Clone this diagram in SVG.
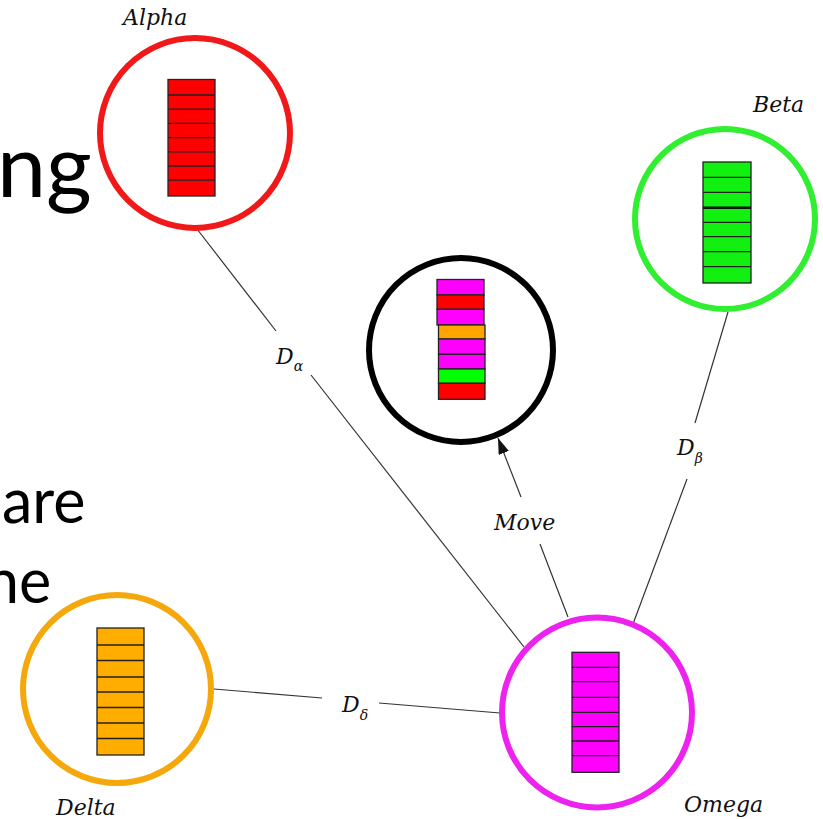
<svg xmlns="http://www.w3.org/2000/svg" width="823" height="819" viewBox="0 0 823 819">
  <style>
    .big { font-family: Lato, "Open Sans", "Liberation Sans", sans-serif; fill: #000; }
    .lbl { font-family: "DejaVu Serif", "Liberation Serif", serif; font-style: italic; font-size: 22px; fill: #111; }
    .dlbl { font-family: "DejaVu Serif", "Liberation Serif", serif; font-style: italic; font-size: 22px; fill: #111; }
    .sub { font-size: 14px; }
    .ring { fill: #fff; stroke-width: 6; }
    .cell { stroke: #222; stroke-width: 1.3; }
    .div { stroke: #222; stroke-width: 1.3; }
    .edge { stroke: #333; stroke-width: 1.2; fill: none; }
  </style>
  <defs>
    <marker id="arrow" markerUnits="userSpaceOnUse" markerWidth="16" markerHeight="11" viewBox="0 0 16 11" refX="16" refY="5.5" orient="auto">
      <path d="M0,0 L16,5.5 L0,11 z" fill="#111"/>
    </marker>
  </defs>

  <rect width="823" height="819" fill="#fff"/>

  <!-- slide text partly covered by the diagram -->
  <text class="big" x="-3" y="197" font-size="88">ng</text>
  <text class="big" x="2" y="523" font-size="61">are</text>
  <text class="big" x="-15" y="603" font-size="61">ne</text>

  <!-- connectors -->
  <g id="connectors">
    <line class="edge" x1="197" y1="229" x2="276" y2="331"/>
    <line class="edge" x1="311" y1="375" x2="524" y2="647"/>
    <line class="edge" x1="728" y1="312" x2="695" y2="423"/>
    <line class="edge" x1="687" y1="479" x2="633" y2="624"/>
    <line class="edge" x1="214" y1="689" x2="322" y2="698"/>
    <line class="edge" x1="379" y1="703" x2="500" y2="713"/>
    <line class="edge" x1="568" y1="617" x2="540" y2="544"/>
    <line class="edge" x1="521" y1="497" x2="498" y2="438" marker-end="url(#arrow)"/>
    <text class="dlbl" x="276" y="364">D<tspan class="sub" dy="7">α</tspan></text>
    <text class="dlbl" x="677" y="455">D<tspan class="sub" dy="8">β</tspan></text>
    <text class="dlbl" x="342" y="712">D<tspan class="sub" dy="8">δ</tspan></text>
    <text class="lbl" x="494" y="530">Move</text>
  </g>

  <!-- Alpha -->
  <g id="alpha">
    <circle class="ring" cx="195" cy="133" r="95" stroke="#F01818"/>
    <rect class="cell" x="168" y="79.5" width="47" height="116.5" fill="#FF0000"/>
    <path class="div" d="M168,95H215M168,109.2H215M168,123.4H215M168,137.6H215M168,151.8H215M168,166H215M168,180.2H215"/>
    <text class="lbl" x="123" y="25">Alpha</text>
  </g>

  <!-- Beta -->
  <g id="beta">
    <circle class="ring" cx="725" cy="219" r="90" stroke="#30EE30"/>
    <rect class="cell" x="703" y="162" width="48" height="121" fill="#11F011"/>
    <path class="div" d="M703,177.3H751M703,192.3H751M703,222.3H751M703,236.7H751M703,251.7H751M703,266.7H751"/>
    <line x1="703" y1="207.7" x2="751" y2="207.7" stroke="#111" stroke-width="2.6"/>
    <text class="lbl" x="753" y="112">Beta</text>
  </g>

  <!-- moving node -->
  <g id="moving">
    <circle class="ring" cx="461" cy="350" r="92" stroke="#000"/>
    <rect class="cell" x="437" y="279.5" width="47" height="15.5" fill="#FF00FF"/>
    <rect class="cell" x="437" y="295" width="47" height="14.3" fill="#FF0000"/>
    <rect class="cell" x="437" y="309.3" width="47" height="15.7" fill="#FF00FF"/>
    <rect class="cell" x="438.5" y="325" width="46.5" height="14" fill="#FFA500"/>
    <rect class="cell" x="438.5" y="339" width="46.5" height="15.3" fill="#FF00FF"/>
    <rect class="cell" x="438.5" y="354.3" width="46.5" height="14.7" fill="#FF00FF"/>
    <rect class="cell" x="438.5" y="369" width="46.5" height="14.3" fill="#00FF00"/>
    <rect class="cell" x="438.5" y="383.3" width="46.5" height="16" fill="#FF0000"/>
  </g>

  <!-- Delta -->
  <g id="delta">
    <circle class="ring" cx="117" cy="689" r="94" stroke="#F5A80C" stroke-width="5"/>
    <rect class="cell" x="97" y="628" width="47" height="127" fill="#FFAE00"/>
    <path class="div" d="M97,645H144M97,660.5H144M97,677H144M97,692H144M97,707.5H144M97,723H144M97,738.5H144"/>
    <text class="lbl" x="56" y="815">Delta</text>
  </g>

  <!-- Omega -->
  <g id="omega">
    <circle class="ring" cx="597" cy="712.5" r="95" stroke="#EE22EE"/>
    <rect class="cell" x="572" y="652.3" width="47" height="120" fill="#FF00FF"/>
    <path class="div" d="M572,667.3H619M572,681.7H619M572,697.3H619M572,712.3H619M572,726.7H619M572,741H619M572,755.7H619"/>
    <text class="lbl" x="684" y="812">Omega</text>
  </g>
</svg>
